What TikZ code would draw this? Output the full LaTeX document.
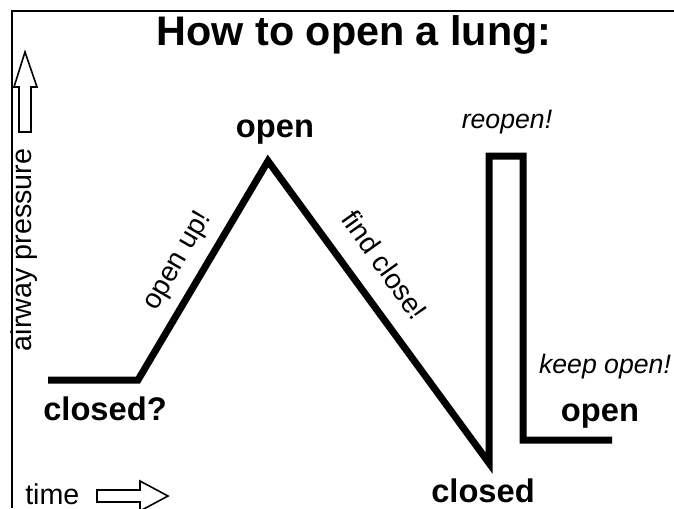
\documentclass[tikz,border=0pt]{standalone}
\usepackage{fontspec}
\setmainfont{Liberation Sans}
\begin{document}
\begin{tikzpicture}[x=0.75pt,y=-0.75pt,line join=miter,
  heading/.style={font=\fontsize{31}{33}\selectfont\bfseries, inner sep=0pt, anchor=base},
  state/.style={font=\fontsize{24.5}{26}\selectfont\bfseries, inner sep=0pt, anchor=base},
  action/.style={font=\fontsize{20}{22}\selectfont\itshape, inner sep=0pt, anchor=base},
  slope/.style={font=\fontsize{21}{23}\selectfont, inner sep=0pt},
  axis/.style={font=\fontsize{21.5}{23}\selectfont, inner sep=0pt},
  pressure/.style={line width=5.25pt},
  hollow/.style={line width=1.2pt}]
\useasboundingbox (0,0) rectangle (674,508);
% frame
\draw[line width=1.8pt] (12,508) -- (12,11) -- (674,11);
% texts
\node (title) [heading] at (354,45) {How to open a lung:};
\node (ylabel) [axis, rotate=90] at (24,250) {airway pressure};
\node (xlabel) [axis, anchor=base west] at (25,504) {time};
\node (closedq) [state] at (105,420) {closed?};
\node (opentop) [state] at (275,137) {open};
\node (closedbot) [state] at (483,502) {closed};
\node (openend) [state] at (600,421) {open};
\node (reopen) [action] at (507,128) {reopen!};
\node (keepopen) [action] at (605,373) {keep open!};
\node (openup) [slope, rotate=59.8] at (178,261) {open up!};
\node (findclose) [slope, rotate=-54.5] at (385,265) {find close!};
% pressure curve
\coordinate (p1) at (48,380);
\coordinate (p2) at (138,380);
\coordinate (p3) at (268,161);
\coordinate (p4) at (489,463);
\coordinate (p5) at (489,156);
\coordinate (p6) at (523,156);
\coordinate (p7) at (523,440);
\coordinate (p8) at (612,440);
\draw[pressure] (p1) -- (p2) -- (p3) -- (p4) -- (p5) -- (p6) -- (p7) -- (p8);
% hollow arrows
\draw[hollow] (19,132) -- (19,87) -- (14,87) -- (25,52) -- (37,87) -- (31,87) -- (31,132) -- cycle;
\draw[hollow] (97,490) -- (140,490) -- (140,481) -- (168,496) -- (140,511) -- (140,502) -- (97,502) -- cycle;
\end{tikzpicture}
\end{document}
